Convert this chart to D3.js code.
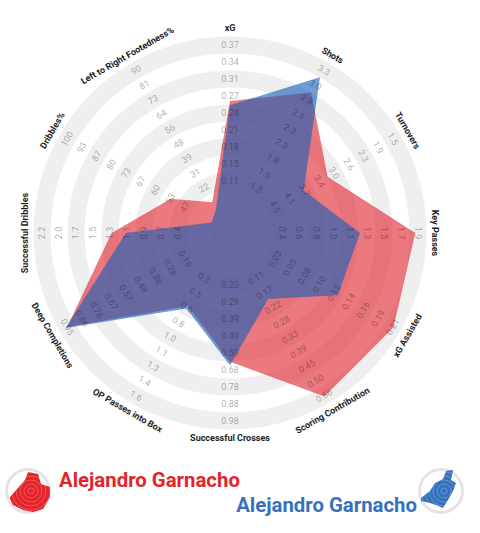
<!DOCTYPE html>
<html>
<head>
<meta charset="utf-8">
<script src="https://cdn.jsdelivr.net/npm/d3@7"></script>
<style>
  html, body { margin: 0; padding: 0; background: #ffffff; }
  svg { display: block; font-family: Roboto, "Open Sans", sans-serif; }
</style>
</head>
<body>
<svg id="chart" width="480" height="533"></svg>
<script>
// Radar parameters, clockwise from the top
const params = [
  "xG", "Shots", "Turnovers", "Key Passes", "xG Assisted", "Scoring Contribution",
  "Successful Crosses", "OP Passes into Box", "Deep Completions", "Successful Dribbles",
  "Dribbles%", "Left to Right Footedness%"
];

// Range of each axis (inner ring value, outer ring value); Turnovers is reversed
const lowValues  = [0.11, 1.3, 4.5, 0.4, 0.03, 0.11, 0.20, 0.3, 0.19, 0.4, 47, 22];
const highValues = [0.37, 3.3, 1.5, 1.9, 0.21, 0.56, 0.98, 1.6, 0.95, 2.2, 100, 90];

// Ring labels per axis, inner to outer
const tickLabels = [
  ["0.11", "0.15", "0.18", "0.21", "0.24", "0.27", "0.31", "0.34", "0.37"],
  ["1.3", "1.5", "1.8", "2.0", "2.3", "2.5", "2.8", "3.0", "3.3"],
  ["4.5", "4.1", "3.7", "3.4", "3.0", "2.6", "2.3", "1.9", "1.5"],
  ["0.4", "0.6", "0.8", "1.0", "1.1", "1.3", "1.5", "1.7", "1.9"],
  ["0.03", "0.05", "0.08", "0.10", "0.12", "0.14", "0.16", "0.19", "0.21"],
  ["0.11", "0.17", "0.22", "0.28", "0.33", "0.39", "0.45", "0.50", "0.56"],
  ["0.20", "0.29", "0.39", "0.49", "0.59", "0.68", "0.78", "0.88", "0.98"],
  ["0.3", "0.5", "0.6", "0.8", "1.0", "1.1", "1.3", "1.4", "1.6"],
  ["0.19", "0.28", "0.38", "0.48", "0.57", "0.67", "0.76", "0.86", "0.95"],
  ["0.4", "0.7", "0.9", "1.1", "1.3", "1.5", "1.7", "2.0", "2.2"],
  ["47", "53", "60", "67", "73", "80", "87", "93", "100"],
  ["22", "31", "39", "48", "56", "64", "73", "81", "90"]
];

// Player values per parameter
const redValues  = [0.263, 2.92, 3.16, 1.87, 0.211, 0.563, 0.64, 0.61, 0.95, 1.28, 53.4, 13.8];
const blueValues = [0.255, 3.18, 3.77, 1.26, 0.126, 0.19, 0.66, 0.635, 0.96, 1.09, 35, 10];

const playerNames = ["Alejandro Garnacho", "Alejandro Garnacho"];
const playerColors = ["#e3242b", "#3572bd"];

// ---- geometry ----
const cx = 230, cy = 233;
const rInner = 52, rOuter = 188;
const ringStep = (rOuter - rInner) / 8;
const titleRadius = 205;
const n = params.length;

const svg = d3.select("#chart");
const g = svg.append("g").attr("transform", `translate(${cx},${cy})`);

const angleDeg = i => i * 360 / n;
const point = (r, a) => [r * Math.sin(a * Math.PI / 180), -r * Math.cos(a * Math.PI / 180)];
// keep text upright on the lower half
const textRotation = a => (a > 90 && a < 270) ? a - 180 : (a >= 270 ? a - 360 : a);

const radialScales = params.map((p, i) =>
  d3.scaleLinear().domain([lowValues[i], highValues[i]]).range([rInner, rOuter]));
const ringIndex = d3.scaleLinear().domain([0, 8]).range([rInner, rOuter]);

// ---- background rings ----
const arc = d3.arc();
const bandCentres = d3.range(0, 9, 2).map(k => ringIndex(k));
g.selectAll("path.band")
  .data(bandCentres)
  .join("path")
  .attr("class", "band")
  .attr("d", r => arc({ innerRadius: r - ringStep / 2, outerRadius: r + ringStep / 2, startAngle: 0, endAngle: 2 * Math.PI }))
  .attr("fill", "#efefef");
g.append("circle").attr("r", ringStep).attr("fill", "#efefef");

// ---- player polygons ----
const radarLine = d3.lineRadial()
  .angle((d, i) => i * 2 * Math.PI / n)
  .radius((d, i) => radialScales[i](d))
  .curve(d3.curveLinearClosed);

g.append("path")
  .attr("d", radarLine(redValues))
  .attr("fill", "#e0202a")
  .attr("fill-opacity", 0.6);

g.append("path")
  .attr("d", radarLine(blueValues))
  .attr("fill", "#1660b8")
  .attr("fill-opacity", 0.62);

// ---- ring value labels (translucent, so they darken over the fills) ----
params.forEach((p, i) => {
  const a = angleDeg(i);
  g.append("g").selectAll("text")
    .data(tickLabels[i])
    .join("text")
    .attr("transform", (t, k) => {
      const [x, y] = point(ringIndex(k), a);
      return `translate(${x},${y}) rotate(${textRotation(a)})`;
    })
    .attr("text-anchor", "middle")
    .attr("dominant-baseline", "central")
    .attr("font-size", 9)
    .attr("fill", "#000000")
    .attr("fill-opacity", 0.34)
    .text(t => t);
});

// ---- parameter titles ----
g.append("g").selectAll("text")
  .data(params)
  .join("text")
  .attr("transform", (p, i) => {
    const a = angleDeg(i);
    const [x, y] = point(titleRadius, a);
    return `translate(${x},${y}) rotate(${textRotation(a)})`;
  })
  .attr("text-anchor", "middle")
  .attr("dominant-baseline", "central")
  .attr("font-size", 9)
  .attr("font-weight", "bold")
  .attr("fill", "#1e1e1e")
  .text(p => p);

// ---- legend: badges and names ----
function badge(cxB, cyB, color, shape) {
  const b = svg.append("g").attr("transform", `translate(${cxB},${cyB})`);
  b.append("circle").attr("r", 21.5).attr("fill", "none")
    .attr("stroke", "#e4e4e4").attr("stroke-width", 3);
  const clipId = "clip" + color.replace("#", "");
  b.append("clipPath").attr("id", clipId)
    .append("path").attr("d", d3.line().curve(d3.curveLinearClosed)(shape));
  b.append("path").attr("d", d3.line().curve(d3.curveLinearClosed)(shape)).attr("fill", color);
  b.append("g").attr("clip-path", `url(#${clipId})`)
    .selectAll("circle").data(d3.range(3, 30, 4)).join("circle")
    .attr("cx", 3).attr("cy", 0).attr("r", d => d)
    .attr("fill", "none").attr("stroke", "#ffffff").attr("stroke-opacity", 0.3).attr("stroke-width", 0.8);
}

const redShape = [[-18, 6], [-3, -11], [0, -19], [10, -17], [13, -7], [22, -4], [22, 6], [15, 18], [5, 21], [-5, 19], [-15, 14], [-18, 8]];
const blueShape = [[-20, 7], [-11, 0], [-6, -8], [2, -12], [5, -20], [12, -21], [10, -11], [15, -8], [12, 0], [7, 9], [2, 17], [-5, 14], [-11, 12], [-20, 10]];

badge(28, 491, playerColors[0], redShape);
badge(441, 491, playerColors[1], blueShape);

// names sized to span the same width as the badge-to-badge layout
const nameWidth = 181;
function fitName(sel) {
  const len = sel.node().getComputedTextLength();
  sel.attr("font-size", 19 * nameWidth / len);
}

fitName(svg.append("text")
  .attr("x", 59).attr("y", 487)
  .attr("font-size", 19).attr("font-weight", "bold")
  .attr("fill", playerColors[0])
  .text(playerNames[0]));

fitName(svg.append("text")
  .attr("x", 417).attr("y", 512)
  .attr("text-anchor", "end")
  .attr("font-size", 19).attr("font-weight", "bold")
  .attr("fill", playerColors[1])
  .text(playerNames[1]));
</script>
</body>
</html>
